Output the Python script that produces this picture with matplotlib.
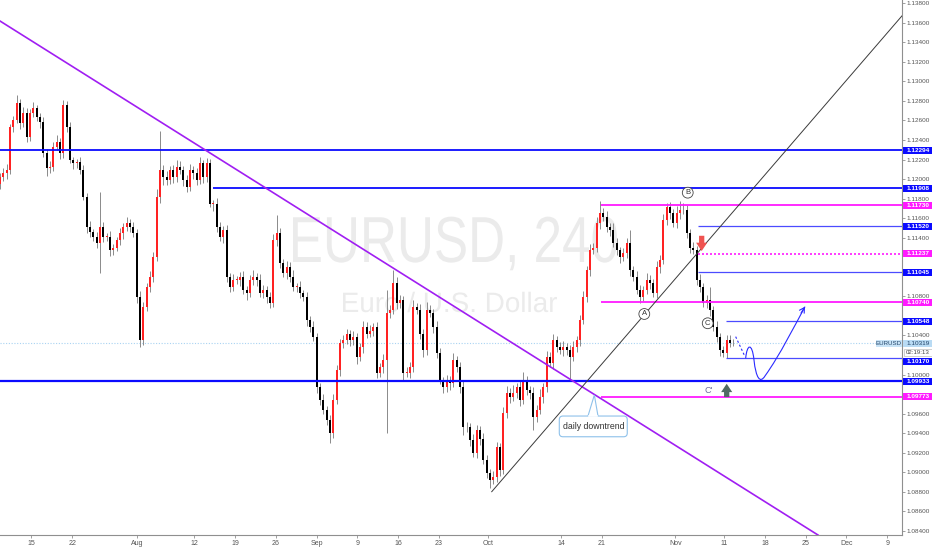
import matplotlib
matplotlib.use('Agg')
import matplotlib.pyplot as plt
import numpy as np
from matplotlib.path import Path
from matplotlib.patches import PathPatch, FancyBboxPatch, Polygon, Rectangle
from matplotlib.transforms import blended_transform_factory, Affine2D
from matplotlib.textpath import TextPath
from matplotlib.font_manager import FontProperties

plt.rcParams['font.family'] = ['Liberation Sans', 'DejaVu Sans']

# EURUSD closes (pips, x10000), one bar every ~0.41 trading day, from early July 2019
closes_pips = [
    11202, 11206, 11209, 11253, 11260, 11278, 11257, 11268, 11243, 11268,
    11273, 11264, 11258, 11227, 11211, 11212, 11233, 11238, 11227, 11276,
    11253, 11220, 11216, 11217, 11209, 11182, 11151, 11146, 11141, 11135,
    11151, 11141, 11141, 11127, 11130, 11138, 11145, 11151, 11155, 11151,
    11145, 11079, 11035, 11069, 11090, 11100, 11120, 11182, 11209, 11202,
    11199, 11209, 11202, 11212, 11209, 11199, 11192, 11209, 11206, 11199,
    11216, 11202, 11216, 11175, 11175, 11151, 11141, 11148, 11100, 11090,
    11097, 11097, 11100, 11087, 11083, 11097, 11100, 11097, 11083, 11087,
    11079, 11073, 11138, 11145, 11114, 11104, 11110, 11100, 11090, 11090,
    11083, 11079, 11056, 11049, 11038, 10987, 10974, 10964, 10954, 10940,
    10974, 11005, 11032, 11035, 11042, 11035, 11038, 11018, 11028, 11049,
    11042, 11045, 11049, 11002, 11008, 11015, 11063, 11066, 11094, 11073,
    11076, 11002, 11002, 11008, 11069, 11066, 11042, 11025, 11066, 11063,
    11049, 11022, 10994, 10987, 10994, 10991, 11015, 11008, 10987, 10946,
    10946, 10933, 10920, 10943, 10934, 10913, 10899, 10892, 10895, 10926,
    10902, 10961, 10981, 10977, 10981, 10987, 10974, 10994, 10984, 10981,
    10957, 10964, 10977, 10987, 11018, 11012, 11035, 11028, 11025, 11028,
    11025, 11018, 11028, 11035, 11056, 11079, 11107, 11127, 11130, 11155,
    11165, 11161, 11151, 11148, 11135, 11127, 11120, 11124, 11135, 11107,
    11100, 11087, 11079, 11087, 11097, 11094, 11083, 11110, 11117, 11158,
    11171, 11165, 11155, 11165, 11168, 11168, 11145, 11130, 11127, 11097,
    11090, 11073, 11076, 11066, 11049, 11038, 11025, 11022, 11035, 11032,
    11032,
]
first_open = 11195

# upper / lower wick length beyond the body, in pips
wick_hi = [
    4, 5, 6, 3, 5, 8, 4, 6, 5, 4,
    6, 3, 4, 5, 4, 6, 5, 7, 4, 5,
    4, 5, 3, 4, 6, 5, 4, 6, 3, 5,
    36, 5, 4, 6, 4, 3, 5, 4, 6, 4,
    5, 4, 6, 5, 4, 6, 5, 8, 40, 5,
    6, 4, 5, 8, 6, 4, 5, 6, 4, 5,
    7, 4, 6, 5, 4, 6, 5, 4, 5, 4,
    6, 4, 5, 6, 4, 5, 7, 4, 6, 5,
    4, 5, 6, 18, 5, 4, 6, 5, 7, 4,
    6, 4, 5, 4, 6, 5, 4, 6, 4, 5,
    6, 5, 4, 6, 5, 4, 7, 5, 4, 6,
    5, 6, 4, 5, 4, 6, 24, 5, 13, 6,
    5, 4, 6, 5, 7, 4, 6, 5, 8, 5,
    4, 6, 5, 4, 6, 5, 7, 4, 5, 6,
    5, 4, 6, 5, 4, 6, 5, 4, 6, 5,
    4, 6, 7, 5, 8, 4, 6, 9, 5, 4,
    6, 5, 8, 4, 6, 5, 7, 4, 5, 6,
    4, 5, 6, 4, 5, 6, 4, 7, 5, 6,
    13, 5, 6, 4, 7, 5, 4, 6, 5, 13,
    4, 6, 5, 4, 7, 5, 4, 6, 5, 6,
    5, 6, 4, 7, 10, 8, 5, 4, 6, 5,
    6, 4, 5, 14, 4, 6, 5, 4, 6, 5,
    4,
]
wick_lo = [
    5, 4, 6, 4, 5, 3, 6, 4, 5, 4,
    4, 5, 6, 4, 8, 5, 4, 3, 6, 5,
    5, 4, 6, 5, 4, 3, 6, 5, 4, 6,
    31, 5, 4, 6, 5, 4, 5, 6, 4, 5,
    4, 6, 7, 5, 4, 6, 5, 4, 6, 8,
    5, 4, 6, 5, 4, 6, 5, 4, 6, 5,
    4, 6, 5, 4, 8, 5, 4, 6, 5, 6,
    5, 4, 6, 5, 7, 4, 5, 6, 4, 5,
    6, 5, 4, 6, 5, 4, 6, 5, 4, 6,
    5, 4, 6, 5, 4, 6, 5, 4, 6, 10,
    5, 4, 6, 5, 4, 6, 5, 7, 4, 6,
    5, 4, 6, 5, 4, 6, 75, 5, 4, 6,
    5, 8, 4, 6, 5, 4, 6, 7, 5, 4,
    6, 5, 4, 6, 5, 7, 4, 5, 6, 8,
    5, 6, 4, 5, 6, 4, 5, 8, 4, 5,
    6, 4, 5, 6, 4, 5, 6, 4, 5, 6,
    14, 5, 4, 6, 5, 4, 6, 5, 4, 6,
    5, 24, 4, 5, 6, 4, 5, 6, 4, 5,
    6, 4, 5, 6, 4, 5, 6, 4, 5, 6,
    4, 5, 6, 4, 5, 6, 4, 5, 6, 4,
    5, 6, 4, 5, 6, 4, 5, 6, 4, 5,
    6, 4, 5, 6, 4, 5, 6, 4, 5, 4,
    3,
]

# x axis: trading days counted from Mon 15 Jul 2019
first_bar = -3.865
bar_step = 0.409
tick_days = [0, 5, 13, 20, 25, 30, 35, 40, 45, 50, 56, 65, 70, 79, 85, 90, 95, 100, 105]
tick_labels = ['15', '22', 'Aug', '12', '19', '26', 'Sep', '9', '16', '23', 'Oct',
               '14', '21', 'Nov', '11', '18', '25', 'Dec', '9']

# price scale ticks (the ones hidden behind level labels are left out, as on the chart)
price_ticks = [1.084, 1.086, 1.088, 1.090, 1.092, 1.094, 1.096, 1.100, 1.104, 1.108,
               1.114, 1.116, 1.118, 1.120, 1.122, 1.124, 1.126, 1.128, 1.130, 1.132,
               1.134, 1.136, 1.138]

# horizontal levels
levels = [1.12294, 1.11908, 1.11730, 1.11520, 1.11237, 1.11045,
          1.10740, 1.10548, 1.10170, 1.09933, 1.09773]
level_start = [-5, 22.3, 69.9, 81.8, 81.8, 81.8, 69.9, 85.2, 85.2, -5, 69.9]
level_kind = ['blue', 'blue', 'pink', 'thin', 'pinkdot', 'thin',
              'pink', 'thin', 'thin', 'bluebold', 'pink']
last_price = 1.10319

# trend lines (day, price)
down_trend = [(-3.865, 1.13617), (96.5, 1.08359)]
up_trend = [(56.47, 1.08802), (77.1, 1.10797)]

# wave labels
wave_names = ['A', 'B', 'C']
wave_days = [75.19, 80.52, 82.97]
wave_prices = [1.10620, 1.11861, 1.10525]

# projected path after the last bar
proj_dash = [(86.40, 1.10388), (87.55, 1.10183)]
proj_curve = [(87.63, 1.10167), (87.79, 1.10313), (88.41, 1.10333), (88.65, 1.10149),
              (88.89, 1.09965), (89.39, 1.09904), (90.00, 1.09986),
              (91.84, 1.10200), (93.68, 1.10507), (94.91, 1.10695)]

BLUE = '#0b0bff'
PINK = '#ff1aff'
styles = {
    'blue': dict(color=BLUE, lw=1.3, ls='-'),
    'bluebold': dict(color=BLUE, lw=1.6, ls='-'),
    'thin': dict(color='#4b4bff', lw=0.9, ls='-'),
    'pink': dict(color=PINK, lw=1.3, ls='-'),
    'pinkdot': dict(color=PINK, lw=1.2, ls=(0, (1.2, 1.2))),
}
box_color = {'blue': BLUE, 'bluebold': BLUE, 'thin': BLUE, 'pink': PINK, 'pinkdot': PINK}

W, H = 932, 550
fig = plt.figure(figsize=(W / 100, H / 100), dpi=100)
ax = fig.add_axes([0, 15 / H, 902 / W, 535 / H])
xmin, xmax = -3.865, 106.81
ymin, ymax = 1.08359, 1.13832
ax.set_xlim(xmin, xmax)
ax.set_ylim(ymin, ymax)

for s in ['top', 'left']:
    ax.spines[s].set_visible(False)
for s in ['right', 'bottom']:
    ax.spines[s].set_color('#8f8f8f')
    ax.spines[s].set_linewidth(0.8)

ax.yaxis.tick_right()
ax.set_yticks(price_ticks)
ax.set_yticklabels(['%.5f' % v for v in price_ticks])
ax.tick_params(axis='y', labelsize=4.6, labelcolor='#555555', color='#8f8f8f',
               length=2.2, width=0.6, pad=1)
ax.set_xticks(tick_days)
ax.set_xticklabels(tick_labels)
ax.tick_params(axis='x', labelsize=5, labelcolor='#555555', color='#8f8f8f',
               length=2.2, width=0.6, pad=1.5)


def watermark(text, left, right, baseline, size):
    # narrow-looking symbol watermark, placed in figure pixels
    tp = TextPath((0, 0), text, size=size, prop=FontProperties(family='Liberation Sans'))
    bb = tp.get_extents()
    sx = (right - left) / bb.width
    tf = Affine2D().scale(sx, 1).translate(left - bb.x0 * sx, H - baseline)
    ax.add_patch(PathPatch(tp, transform=tf, fc='#ebebeb', ec='none', zorder=0.5))


watermark('EURUSD, 240', 293, 617, 262, 65)
watermark('Euro / U.S. Dollar', 343, 557, 312, 28)

# candles
closes = np.array(closes_pips) / 10000
opens = np.r_[first_open / 10000, closes[:-1]]
highs = np.maximum(opens, closes) + np.array(wick_hi) / 10000
lows = np.minimum(opens, closes) - np.array(wick_lo) / 10000
days = first_bar + bar_step * np.arange(len(closes))
up = closes >= opens
ax.vlines(days, lows, highs, color='#8a8a8a', lw=0.7, zorder=3)
ax.bar(days, np.maximum(np.abs(closes - opens), 0.00005), bottom=np.minimum(opens, closes),
       width=0.27, color=np.where(up, '#ff2222', '#000000'), linewidth=0, zorder=4)

# current price line
ax.axhline(last_price, color='#a9d3f2', lw=0.8, ls=(0, (1, 1.5)), zorder=2)

# levels
for p, x0, k in zip(levels, level_start, level_kind):
    st = styles[k]
    ax.hlines(p, x0, xmax + 5, colors=st['color'], lw=st['lw'], linestyles=st['ls'], zorder=5)

# trend lines
(dx0, dy0), (dx1, dy1) = down_trend
ax.plot([dx0, dx1], [dy0, dy1], color='#a01ef2', lw=1.2, zorder=5)
(ux0, uy0), (ux1, uy1) = up_trend
slope = (uy1 - uy0) / (ux1 - ux0)
ax.plot([ux0, xmax + 5], [uy0, uy0 + slope * (xmax + 5 - ux0)], color='#3a3a3a', lw=0.7, zorder=5)

# wave circles
for n, d, p in zip(wave_names, wave_days, wave_prices):
    ax.text(d, p, n, ha='center', va='center', fontsize=5.5, color='#333333', zorder=7,
            bbox=dict(boxstyle='circle,pad=0.25', fc='white', ec='#444444', lw=0.6))
ax.text(83.13, 1.09842, "C'", ha='center', va='center', fontsize=6.5, color='#6c6c9c', zorder=7)

# arrows
arrow_style = 'simple,head_length=0.6,head_width=0.8,tail_width=0.38'
ax.annotate('', xy=(82.23, 1.11264), xytext=(82.23, 1.11420),
            arrowprops=dict(arrowstyle=arrow_style, fc='#ef5350', ec='none',
                            mutation_scale=10, shrinkA=0, shrinkB=0), zorder=7)
ax.annotate('', xy=(85.30, 1.09906), xytext=(85.30, 1.09770),
            arrowprops=dict(arrowstyle=arrow_style, fc='#4f6b63', ec='none',
                            mutation_scale=10, shrinkA=0, shrinkB=0), zorder=7)

# projection
ax.plot([q[0] for q in proj_dash], [q[1] for q in proj_dash], color='#2a2aff', lw=0.8,
        ls=(0, (2, 2)), zorder=6)
codes = [Path.MOVETO] + [Path.CURVE4] * (len(proj_curve) - 1)
ax.add_patch(PathPatch(Path(proj_curve, codes), fc='none', ec='#2a2aff', lw=0.8, zorder=6))
ax.annotate('', xy=proj_curve[-1], xytext=(94.42, 1.10630),
            arrowprops=dict(arrowstyle='->,head_length=0.35,head_width=0.2', color='#2a2aff',
                            lw=0.8, shrinkA=0, shrinkB=0), zorder=6)

# callout "daily downtrend"
bx0, bx1, by0, by1 = 64.76, 73.10, 1.09364, 1.09576
ax.add_patch(FancyBboxPatch((bx0, by0), bx1 - bx0, by1 - by0,
                            boxstyle='round,pad=0,rounding_size=0.45', mutation_aspect=0.000834,
                            fc='white', ec='#8ec1ea', lw=0.8, zorder=7))
ax.add_patch(Polygon([(68.28, by1), (69.06, 1.09791), (69.51, by1)], closed=False,
                     fc='white', ec='#8ec1ea', lw=0.8, zorder=8))
ax.plot([68.40, 69.39], [by1, by1], color='white', lw=1.2, zorder=9)
ax.text((bx0 + bx1) / 2, (by0 + by1) / 2, 'daily downtrend', ha='center', va='center',
        fontsize=6.3, color='#333333', zorder=9)

# price scale labels
tr = blended_transform_factory(ax.transAxes, ax.transData)
bw = 30 / 902
bh = 7 * (ymax - ymin) / 535
label_at = {1.10170: 1.10135}
for p, k in zip(levels, level_kind):
    yc = label_at.get(p, p)
    ax.add_patch(Rectangle((1 + 1 / 902, yc - bh / 2), bw, bh, transform=tr, fc=box_color[k],
                           ec='none', clip_on=False, zorder=10))
    ax.text(1 + 1 / 902 + bw / 2, yc, '%.5f' % p, transform=tr, ha='center', va='center',
            fontsize=4.6, color='white', fontweight='bold', clip_on=False, zorder=11)

ax.add_patch(Rectangle((1 + 1 / 902, last_price - bh / 2), bw, bh, transform=tr, fc='#b9dbf4',
                       ec='none', clip_on=False, zorder=10))
ax.text(1 + 1 / 902 + bw / 2, last_price, '%.5f' % last_price, transform=tr, ha='center',
        va='center', fontsize=4.6, color='#23466b', clip_on=False, zorder=11)
ax.add_patch(Rectangle((1 - 26 / 902, last_price - bh / 2), 26 / 902, bh, transform=tr,
                       fc='#c8e3f7', ec='none', clip_on=False, zorder=10))
ax.text(1 - 13 / 902, last_price, 'EURUSD', transform=tr, ha='center', va='center',
        fontsize=4.4, color='#23466b', clip_on=False, zorder=11)
cy = 1.10231
ax.add_patch(Rectangle((1 + 2 / 902, cy - bh / 2), 28 / 902, bh, transform=tr, fc='white',
                       ec='#bdbdbd', lw=0.5, clip_on=False, zorder=10))
ax.text(1 + 16 / 902, cy, '02:19:13', transform=tr, ha='center', va='center',
        fontsize=4.4, color='#444444', clip_on=False, zorder=11)

fig.savefig('out.png', dpi=100, facecolor='white')
